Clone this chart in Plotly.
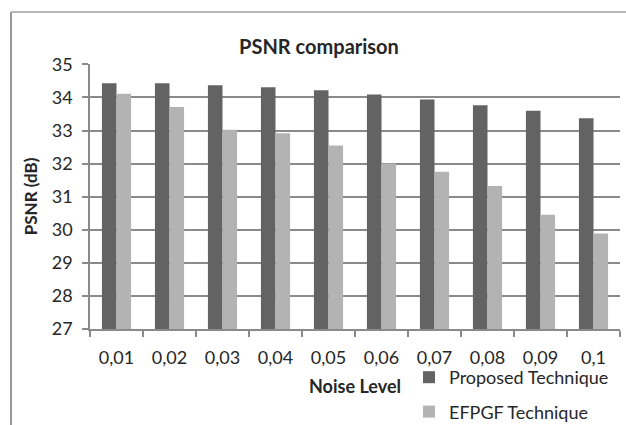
import plotly.graph_objects as go

categories = ["0,01", "0,02", "0,03", "0,04", "0,05", "0,06", "0,07", "0,08", "0,09", "0,1"]
proposed = [34.43, 34.43, 34.37, 34.31, 34.22, 34.09, 33.94, 33.76, 33.60, 33.37]
efpgf = [34.11, 33.71, 33.02, 32.92, 32.55, 32.00, 31.75, 31.32, 30.45, 29.89]
y_ticks = [27, 28, 29, 30, 31, 32, 33, 34, 35]

FONT = "Lato"
TXT = "#262626"
GRID = "#8a8a8a"

fig = go.Figure()
fig.add_trace(go.Bar(x=categories, y=proposed, name="Proposed Technique",
                     marker=dict(color="#636363", line=dict(width=0)),
                     legendgroup="a"))
fig.add_trace(go.Bar(x=categories, y=efpgf, name="EFPGF Technique",
                     marker=dict(color="#b3b3b3", line=dict(width=0)),
                     legendgroup="b"))

W, H = 626, 425
L, R, T, B = 90, 6, 64, 96
pw = W - L - R
ph = H - T - B

def px2x(px):
    return (px - L) / pw

def py2y(py):
    return (H - B - py) / ph

fig.update_layout(
    width=W, height=H,
    margin=dict(l=L, r=R, t=T, b=B, autoexpand=False),
    paper_bgcolor="white", plot_bgcolor="white",
    font=dict(family=FONT, size=18, color=TXT),
    barmode="group", bargap=0.45, bargroupgap=0,
    title=dict(text="<b>PSNR comparison</b>", font=dict(family=FONT, size=20, color=TXT),
               x=319 / W, xref="container", xanchor="center",
               y=1 - 47 / H, yref="container", yanchor="middle"),
    xaxis=dict(
        type="category", tickson="boundaries", ticks="outside", ticklen=6,
        tickcolor=GRID, tickwidth=1.5, automargin=False,
        showline=True, linecolor=GRID, linewidth=1.5,
        showgrid=False, ticklabelstandoff=12,
        tickfont=dict(family=FONT, size=18, color=TXT),
        title=dict(text="<b>Noise Level</b>", standoff=13,
                   font=dict(family=FONT, size=18, color=TXT)),
    ),
    yaxis=dict(
        range=[27, 35.01], tickvals=y_ticks, ticks="outside", ticklen=6,
        tickcolor=GRID, tickwidth=1.5, automargin=False,
        showline=True, linecolor=GRID, linewidth=1.5,
        showgrid=True, gridcolor=GRID, gridwidth=1.5, zeroline=False,
        ticklabelstandoff=6,
        tickfont=dict(family=FONT, size=18, color=TXT),
        title=dict(text="<b>PSNR (dB)</b>", standoff=10,
                   font=dict(family=FONT, size=17, color=TXT)),
    ),
    legend=dict(
        x=px2x(409), xanchor="left", y=py2y(359), yanchor="top",
        traceorder="grouped", tracegroupgap=8,
        bgcolor="rgba(0,0,0,0)", borderwidth=0,
        font=dict(family=FONT, size=18, color=TXT),
    ),
    shapes=[
        dict(type="line", xref="paper", yref="paper",
             x0=px2x(11), x1=px2x(11), y0=py2y(430), y1=py2y(12),
             line=dict(color="#999999", width=2)),
        dict(type="line", xref="paper", yref="paper",
             x0=px2x(11), x1=px2x(630), y0=py2y(12), y1=py2y(12),
             line=dict(color="#a0a0a0", width=1.5)),
    ],
)

fig.write_html("out.html", config={"displayModeBar": False},
               post_script="document.body.style.margin='0';")
